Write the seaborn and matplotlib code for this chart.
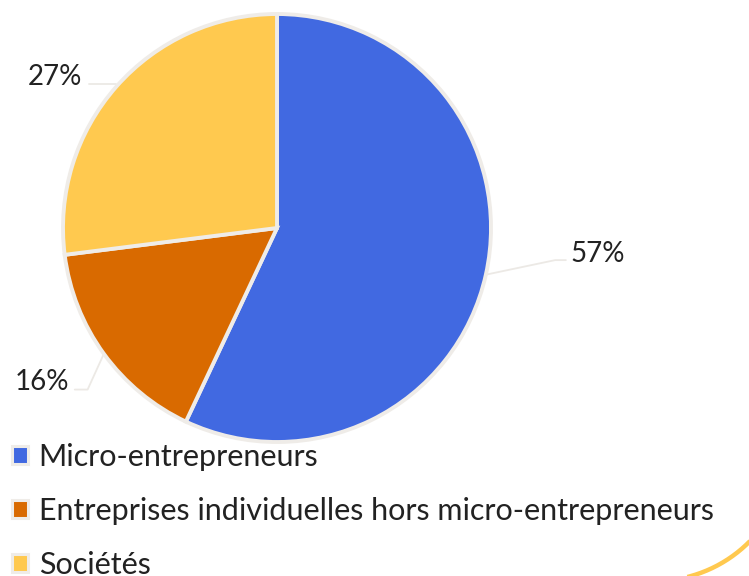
import matplotlib
matplotlib.use("Agg")
import matplotlib.pyplot as plt
from matplotlib.patches import Patch
import numpy as np
import seaborn as sns

# Répartition des créations d'entreprises par catégorie
categories = ["Micro-entrepreneurs",
              "Entreprises individuelles hors micro-entrepreneurs",
              "Sociétés"]
shares = [57, 16, 27]
pct_labels = ["57%", "16%", "27%"]

sns.set_theme(style="white")
plt.rcParams["font.family"] = ["Lato", "DejaVu Sans"]

palette = sns.color_palette(["#4169E1", "#D96A00", "#FFC94F"])
edge_col = "#EFECE8"
text_col = "#222222"
legend_font = dict(family=["Lato", "DejaVu Sans"], size=22, weight="normal")

W, H = 749, 576
fig = plt.figure(figsize=(W / 100, H / 100), dpi=100)

# decorative arc in the bottom-right corner (pixel coordinates)
deco = fig.add_axes([0, 0, 1, 1])
t = np.linspace(np.deg2rad(-5), np.deg2rad(80), 200)
deco.plot(655 + 133 * np.cos(t), 448 + 133 * np.sin(t), color="#FFC94F",
          lw=3.2, solid_capstyle="butt")
deco.set_xlim(0, W)
deco.set_ylim(H, 0)
deco.axis("off")

# pie
cx, cy, r = 277, 228, 214
ax = fig.add_axes([(cx - r) / W, (H - cy - r) / H, 2 * r / W, 2 * r / H])
wedges, _ = ax.pie(shares, colors=palette, startangle=90, counterclock=False,
                   wedgeprops=dict(edgecolor=edge_col, linewidth=2.8))
ax.set_xlim(-1, 1)
ax.set_ylim(-1, 1)
ax.set_aspect("equal")
ax.axis("off")

# leader lines and percentage labels
line_kw = dict(color="#ECE9E5", lw=1.3, clip_on=False, zorder=0)
label_kw = dict(color=text_col, va="center", clip_on=False,
                fontsize=20, fontweight="normal")
for w, lab in zip(wedges, pct_labels):
    mid = np.deg2rad((w.theta1 + w.theta2) / 2)
    ex, ey = np.cos(mid), np.sin(mid)
    if ex > 0.5:  # right-hand label
        kx, ky = 1.30, -0.15
        ax.plot([ex, kx, kx + 0.05], [ey, ky, ky], **line_kw)
        ax.text(kx + 0.07, ky + 0.03, lab, ha="left", **label_kw)
    elif ey > 0:  # upper-left label
        kx = -0.88
        ax.plot([ex, kx], [ey + 0.01, ey + 0.01], **line_kw)
        ax.text(kx - 0.03, ey + 0.045, lab, ha="right", **label_kw)
    else:  # lower-left label
        kx, ky = -0.885, -0.755
        ax.plot([ex, kx, kx - 0.06], [ey, ky, ky], **line_kw)
        ax.text(kx - 0.085, ky + 0.035, lab, ha="right", **label_kw)

# legend
handles = [Patch(facecolor=c, edgecolor=edge_col, linewidth=2.2) for c in palette]
fig.legend(handles, categories, loc="upper left",
           bbox_to_anchor=(0.008, (H - 437) / H), frameon=False,
           prop=legend_font, handlelength=0.52, handleheight=0.52,
           handletextpad=0.35, labelspacing=0.85, borderaxespad=0.0,
           labelcolor=text_col, borderpad=0.2)

fig.savefig("out.png", dpi=100)
